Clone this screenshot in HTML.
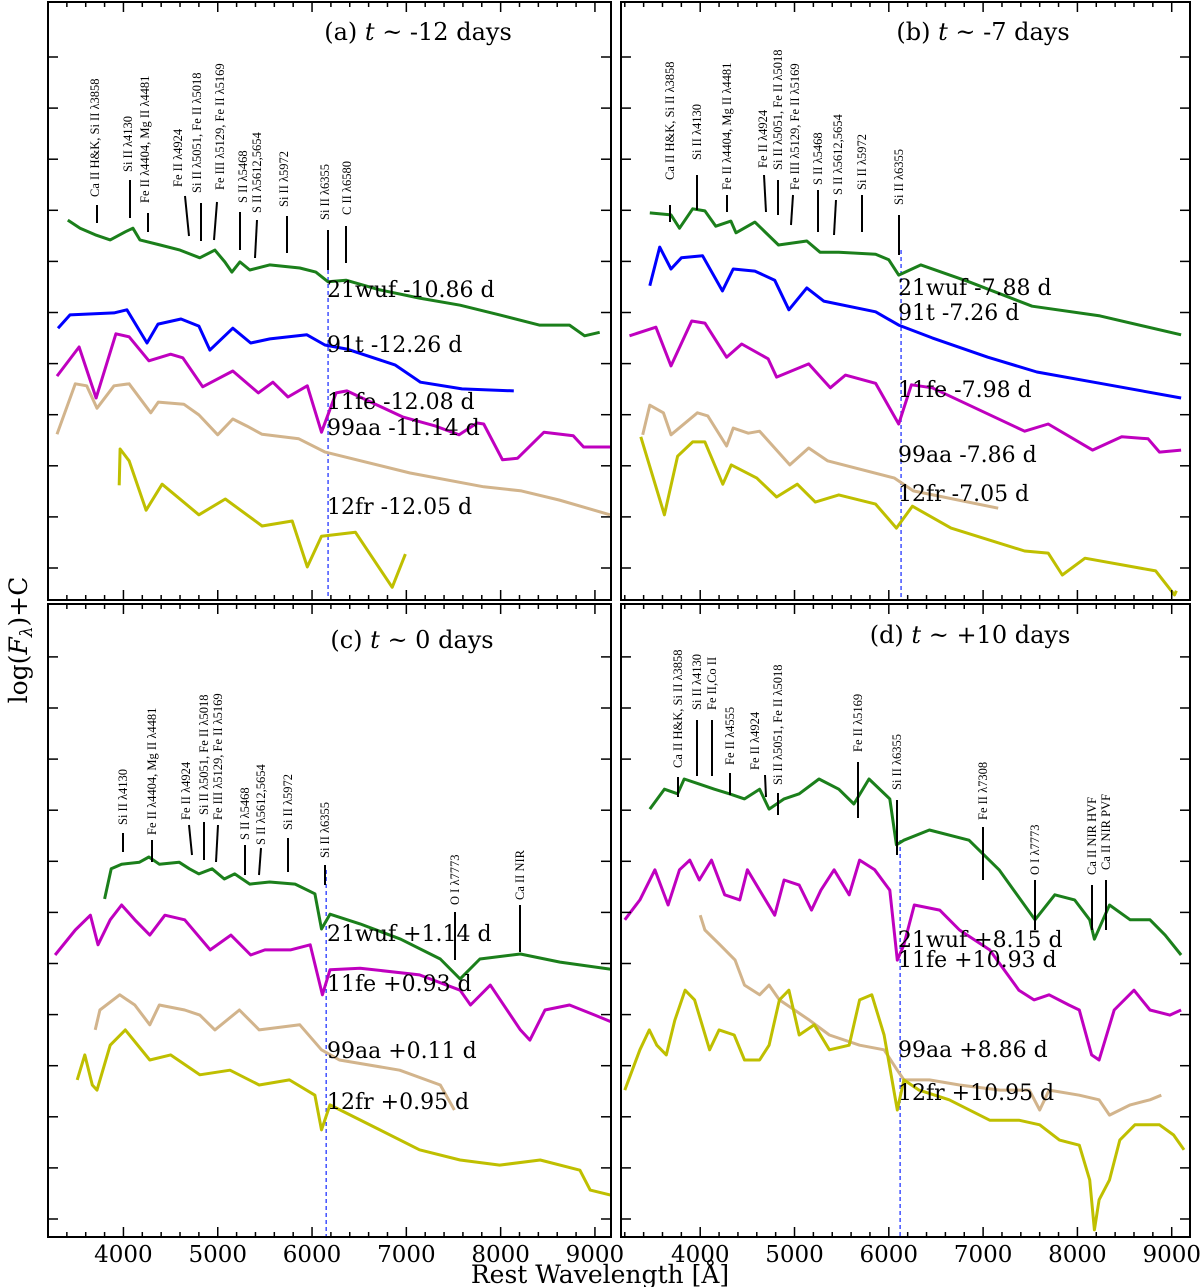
<!DOCTYPE html>
<html><head><meta charset="utf-8">
<style>
html,body{margin:0;padding:0;background:#fff;}
svg{display:block;}
.lbl{font-family:"DejaVu Serif","Liberation Serif",serif;font-size:22px;fill:#000;}
.ttl{font-family:"DejaVu Serif","Liberation Serif",serif;font-size:24px;fill:#000;}
.ion{font-family:"Liberation Serif","DejaVu Serif",serif;font-size:12.5px;fill:#000;}
.tick{font-family:"DejaVu Serif","Liberation Serif",serif;font-size:23px;fill:#000;}
</style></head>
<body>
<svg id="chart" width="1200" height="1287" viewBox="0 0 1200 1287">
<text x="600" y="1283" text-anchor="middle" class="tick" style="font-size:25px">Rest Wavelength [Å]</text>
<text transform="translate(27,640) rotate(-90)" text-anchor="middle" class="tick" style="font-size:25px;font-family:'DejaVu Serif',serif">log(<tspan font-style="italic">F</tspan><tspan font-style="italic" font-size="17" dy="5">λ</tspan><tspan dy="-5">)+C</tspan></text>
</svg>
<script>
// ---- data: [rest wavelength (Å), log flux + offset] ----
const wufA=[[3410,7.45],[3540,7.29],[3700,7.16],[3860,7.06],[4020,7.22],[4100,7.29],[4175,7.06],[4390,6.96],[4600,6.86],[4810,6.71],[4970,6.86],[5075,6.63],[5150,6.43],[5235,6.63],[5340,6.47],[5550,6.57],[5870,6.51],[6040,6.43],[6170,6.24],[6360,6.27],[6720,6.08],[7140,5.92],[7570,5.78],[7990,5.59],[8410,5.39],[8730,5.39],[8890,5.18],[9050,5.25]];
const t91A=[[3306,5.33],[3433,5.59],[3900,5.63],[4037,5.69],[4250,5.04],[4366,5.41],[4610,5.51],[4800,5.37],[4917,4.9],[5160,5.33],[5350,5.04],[5553,5.12],[5945,5.2],[6136,5.0],[6370,4.92],[6880,4.61],[7150,4.27],[7590,4.14],[8140,4.1]];
const fe11A=[[3295,4.39],[3530,4.96],[3710,3.96],[3920,5.22],[4060,5.16],[4270,4.69],[4500,4.82],[4630,4.75],[4840,4.18],[5160,4.49],[5430,4.06],[5585,4.27],[5745,3.98],[5950,4.2],[6100,3.29],[6255,4.06],[6370,4.1],[6960,3.59],[7310,3.41],[7560,3.24],[7750,3.47],[7820,3.45],[8020,2.75],[8180,2.78],[8460,3.29],[8770,3.22],[8880,3.0],[9160,3.0]];
const aa99A=[[3295,3.25],[3490,4.24],[3610,4.2],[3720,3.76],[3900,4.2],[4060,4.24],[4290,3.67],[4370,3.88],[4640,3.84],[4800,3.63],[5000,3.24],[5160,3.55],[5310,3.41],[5470,3.25],[5860,3.16],[6140,2.9],[7040,2.49],[7820,2.22],[8220,2.14],[8620,1.96],[9160,1.67]];
const fr12A=[[3955,2.25],[3965,2.96],[4060,2.73],[4240,1.76],[4410,2.27],[4800,1.67],[5080,1.98],[5470,1.45],[5790,1.55],[5950,0.65],[6100,1.25],[6460,1.33],[6850,0.25],[6990,0.9]];

const wufB=[[3465,7.59],[3690,7.55],[3780,7.29],[3920,7.67],[4050,7.63],[4165,7.33],[4325,7.43],[4380,7.2],[4580,7.41],[4830,6.96],[5130,7.04],[5270,6.82],[5470,6.82],[5860,6.78],[6000,6.67],[6105,6.37],[6340,6.57],[6850,6.24],[7520,5.76],[8240,5.57],[9100,5.2]];
const t91B=[[3465,6.16],[3570,6.92],[3690,6.49],[3800,6.71],[4025,6.75],[4235,6.06],[4350,6.49],[4580,6.45],[4790,6.27],[4940,5.69],[5130,6.12],[5310,5.86],[5860,5.65],[6105,5.39],[6460,5.14],[7050,4.76],[7570,4.47],[8240,4.25],[9100,3.96]];
const fe11B=[[3250,5.18],[3530,5.35],[3690,4.59],[3910,5.47],[4050,5.43],[4280,4.76],[4440,5.02],[4720,4.73],[4810,4.37],[5150,4.63],[5380,4.16],[5540,4.41],[5860,4.25],[6105,3.45],[6240,4.22],[6460,4.16],[7440,3.31],[7690,3.45],[8160,2.94],[8470,3.2],[8750,3.16],[8870,2.9],[9100,2.94]];
const aa99B=[[3390,3.24],[3465,3.82],[3610,3.67],[3690,3.24],[3970,3.67],[4080,3.61],[4280,3.02],[4350,3.37],[4510,3.27],[4630,3.31],[4950,2.65],[5150,2.98],[5350,2.73],[6060,2.39],[6260,2.14],[7160,1.8]];
const fr12B=[[3370,3.2],[3620,1.67],[3760,2.82],[3920,3.1],[4050,3.1],[4240,2.27],[4330,2.65],[4600,2.39],[4810,2.02],[5030,2.27],[5220,1.92],[5470,2.06],[5860,1.88],[6080,1.41],[6250,1.84],[6660,1.41],[7440,0.96],[7690,0.92],[7840,0.49],[8080,0.82],[8830,0.57],[9030,0.1],[9050,0.18]];

const wufC=[[3800,6.63],[3870,7.22],[3980,7.31],[4170,7.35],[4270,7.45],[4380,7.31],[4590,7.35],[4700,7.22],[4800,7.12],[4940,7.22],[5070,7.02],[5180,7.12],[5340,6.92],[5550,6.96],[5820,6.92],[6030,6.73],[6100,6.04],[6190,6.33],[6510,6.14],[6940,5.84],[7360,5.45],[7570,5.06],[7780,5.45],[8210,5.55],[8630,5.39],[9170,5.25]];
const fe11C=[[3275,5.53],[3490,6.02],[3650,6.31],[3730,5.73],[3860,6.22],[3980,6.51],[4120,6.22],[4280,5.92],[4440,6.31],[4650,6.22],[4920,5.63],[5140,5.92],[5350,5.53],[5500,5.63],[5770,5.63],[5980,5.73],[6110,4.75],[6190,5.24],[6510,5.27],[7140,5.14],[7570,4.84],[7680,4.55],[7890,4.94],[8210,4.06],[8310,3.86],[8470,4.45],[8730,4.55],[9000,4.35],[9170,4.22]];
const aa99C=[[3700,4.06],[3750,4.45],[3960,4.75],[4120,4.55],[4280,4.16],[4380,4.55],[4650,4.45],[4810,4.35],[4970,4.06],[5230,4.45],[5440,4.06],[5870,4.16],[6100,3.67],[6290,3.47],[6930,3.27],[7360,2.98],[7510,2.49]];
const fr12C=[[3510,3.08],[3590,3.57],[3670,2.98],[3720,2.88],[3860,3.76],[4020,4.06],[4280,3.47],[4500,3.57],[4810,3.18],[5130,3.27],[5440,2.98],[5760,3.08],[6030,2.78],[6100,2.1],[6190,2.59],[6720,2.1],[7140,1.71],[7570,1.51],[7990,1.41],[8420,1.51],[8840,1.31],[8950,0.92],[9170,0.82]];

const wufD=[[3465,8.39],[3620,8.78],[3760,8.69],[3830,8.98],[3990,8.88],[4150,8.78],[4310,8.69],[4470,8.59],[4630,8.78],[4730,8.39],[4890,8.59],[5050,8.69],[5260,8.98],[5470,8.78],[5630,8.49],[5790,8.98],[6010,8.59],[6080,7.69],[6160,7.78],[6430,7.98],[6850,7.78],[7170,7.2],[7550,6.22],[7760,6.71],[7970,6.61],[8130,6.22],[8180,5.84],[8340,6.51],[8560,6.22],[8770,6.22],[8930,5.92],[9100,5.53]];
const fe11D=[[3200,6.22],[3360,6.61],[3520,7.2],[3660,6.51],[3780,7.2],[3890,7.39],[3990,7.0],[4120,7.39],[4260,6.71],[4420,6.61],[4500,7.2],[4630,6.8],[4790,6.31],[4890,7.0],[5050,6.9],[5180,6.41],[5280,6.8],[5420,7.2],[5580,6.71],[5690,7.39],[5850,7.2],[6010,6.8],[6090,5.43],[6160,5.73],[6270,6.51],[6540,6.41],[6750,6.02],[7070,5.63],[7380,4.84],[7540,4.65],[7700,4.75],[7910,4.55],[8020,4.45],[8150,3.57],[8230,3.47],[8390,4.45],[8600,4.84],[8770,4.45],[8980,4.35],[9100,4.45]];
const aa99D=[[4000,6.31],[4050,6.02],[4210,5.73],[4370,5.43],[4470,4.94],[4630,4.75],[4730,4.94],[4840,4.65],[5000,4.45],[5160,4.25],[5370,3.96],[5690,3.76],[5950,3.67],[6090,3.27],[6160,3.08],[6430,3.08],[6750,2.98],[7180,2.88],[7490,2.88],[7600,2.49],[7700,2.88],[8020,2.78],[8230,2.69],[8340,2.39],[8560,2.59],[8770,2.69],[8890,2.78]];
const fr12D=[[3200,2.88],[3360,3.67],[3460,4.06],[3540,3.76],[3640,3.57],[3730,4.25],[3840,4.84],[3940,4.65],[4100,3.67],[4200,4.06],[4360,3.96],[4470,3.47],[4630,3.47],[4730,3.76],[4840,4.65],[4940,4.84],[5050,3.96],[5210,4.16],[5370,3.67],[5580,3.76],[5690,4.65],[5820,4.75],[5950,3.96],[6090,2.49],[6160,3.08],[6320,2.88],[6640,2.69],[7070,2.29],[7380,2.29],[7600,2.2],[7810,1.9],[8020,1.8],[8130,1.12],[8180,0.14],[8230,0.73],[8340,1.12],[8450,1.9],[8610,2.2],[8870,2.2],[9020,2.0],[9130,1.71]];

const xTickLabels=[4000,5000,6000,7000,8000,9000];
const seriesNames=["21wuf","91t","11fe","99aa","12fr"];
const seriesColors={"21wuf":"#1b7f1b","91t":"#0000ff","11fe":"#bf00bf","99aa":"#d2b48c","12fr":"#bfbf00"};

const panels=[
 {id:"a",x0:48,x1:611,y0:2,y1:600,lam0:3200,title:"-12 days",tx:418,ty:40,
  series:{"21wuf":wufA,"91t":t91A,"11fe":fe11A,"99aa":aa99A,"12fr":fr12A},
  labels:[["21wuf -10.86 d",297],["91t -12.26 d",352],["11fe -12.08 d",409],["99aa -11.14 d",435],["12fr -12.05 d",514]],lx:327,dash:[270,600],dashLam:6170,
  ions:[["Ca II H&K, Si II λ3858",95,197,97,205,97,223],["Si II λ4130",128,172,130,180,130,218],["Fe II λ4404, Mg II λ4481",145,203,148,213,148,232],["Fe II λ4924",178,187,185,196,189,236],["Si II λ5051, Fe II λ5018",197,193,201,203,201,241],["Fe III λ5129, Fe II λ5169",220,190,217,202,214,240],["S II λ5468",243,203,240,212,240,250],["S II λ5612,5654",257,213,257,220,255,258],["Si II λ5972",284,207,287,216,287,253],["Si II λ6355",325,220,328,230,328,270],["C II λ6580",347,215,346,226,346,263]]},
 {id:"b",x0:621,x1:1190,y0:2,y1:600,lam0:3160,title:"-7 days",tx:983,ty:40,
  series:{"21wuf":wufB,"91t":t91B,"11fe":fe11B,"99aa":aa99B,"12fr":fr12B},
  labels:[["21wuf -7.88 d",295],["91t -7.26 d",320],["11fe -7.98 d",397],["99aa -7.86 d",462],["12fr -7.05 d",501]],lx:898,dash:[250,600],dashLam:6130,
  ions:[["Ca II H&K, Si II λ3858",670,180,670,205,670,222],["Si II λ4130",697,160,697,175,697,210],["Fe II λ4404, Mg II λ4481",727,190,727,195,727,212],["Fe II λ4924",763,168,764,175,766,212],["Si II λ5051, Fe II λ5018",778,170,778,180,778,215],["Fe III λ5129, Fe II λ5169",795,190,793,195,791,225],["S II λ5468",818,185,818,190,818,232],["S II λ5612,5654",838,195,836,200,834,235],["Si II λ5972",862,190,862,195,862,232],["Si II λ6355",899,205,899,215,899,255]]},
 {id:"c",x0:48,x1:611,y0:604,y1:1237,lam0:3200,title:"0 days",tx:412,ty:648,
  series:{"21wuf":wufC,"11fe":fe11C,"99aa":aa99C,"12fr":fr12C},
  labels:[["21wuf +1.14 d",941],["11fe +0.93 d",991],["99aa +0.11 d",1058],["12fr +0.95 d",1109]],lx:327,dash:[870,1237],dashLam:6150,
  ions:[["Si II λ4130",123,825,123,833,123,852],["Fe II λ4404, Mg II λ4481",152,835,152,840,152,862],["Fe II λ4924",186,820,189,825,192,855],["Si II λ5051, Fe II λ5018",204,815,204,822,204,860],["Fe III λ5129, Fe II λ5169",218,820,218,825,216,862],["S II λ5468",245,840,245,845,245,875],["S II λ5612,5654",261,845,261,848,259,875],["Si II λ5972",288,830,288,838,288,872],["Si II λ6355",325,858,325,865,325,885],["O I λ7773",455,905,455,912,455,960],["Ca II NIR",520,900,520,905,520,952]]},
 {id:"d",x0:621,x1:1190,y0:604,y1:1237,lam0:3160,title:"+10 days",tx:970,ty:643,
  series:{"21wuf":wufD,"11fe":fe11D,"99aa":aa99D,"12fr":fr12D},
  labels:[["21wuf +8.15 d",947],["11fe +10.93 d",967],["99aa +8.86 d",1057],["12fr +10.95 d",1100]],lx:898,dash:[840,1237],dashLam:6120,
  ions:[["Ca II H&K, Si II λ3858",678,768,678,777,678,797],["Si II λ4130",697,710,697,720,697,776],["Fe II,Co II",712,710,712,720,712,776],["Fe II λ4555",730,765,730,773,730,795],["Fe II λ4924",755,770,765,775,766,797],["Si II λ5051, Fe II λ5018",778,785,778,793,778,815],["Fe II λ5169",858,752,858,762,858,818],["Si II λ6355",897,790,897,800,897,855],["Fe II λ7308",983,820,983,827,983,880],["O I λ7773",1035,875,1035,880,1035,930],["Ca II NIR HVF",1092,875,1092,885,1092,930],["Ca II NIR PVF",1106,870,1106,880,1106,930]]}
];
const PXPERA=0.0943, PXPERV=51;
const NS="http://www.w3.org/2000/svg";
const svg=document.getElementById("chart");
function mk(tag,attrs,parent){const e=document.createElementNS(NS,tag);for(const k in attrs)e.setAttribute(k,attrs[k]);(parent||svg).appendChild(e);return e;}

panels.forEach(p=>{
  const g=mk("g",{});
  
  
  const xs=l=>p.x0+(l-p.lam0)*PXPERA;
  const ys=v=>p.y1-v*PXPERV;
  const clipId="clip"+p.id;
  const cp=mk("clipPath",{id:clipId},g);
  mk("rect",{x:p.x0,y:p.y0,width:p.x1-p.x0,height:p.y1-p.y0},cp);
  const dl=mk("line",{x1:xs(p.dashLam),x2:xs(p.dashLam),y1:p.dash[0],y2:p.dash[1],stroke:"#3344ff","stroke-width":1.4,"stroke-dasharray":"4,3"},g);
  
  
  for(const name of seriesNames){
    const d=p.series[name]; if(!d) continue;
    const path=mk("path",{d:d.map((pt,i)=>(i?"L":"M")+xs(pt[0]).toFixed(1)+","+ys(pt[1]).toFixed(1)).join(""),fill:"none",stroke:seriesColors[name],"stroke-width":3,"stroke-linejoin":"round","clip-path":"url(#"+clipId+")"},g);
    
    
  }
  p.labels.forEach(l=>{
    const t=mk("text",{x:p.lx,y:l[1],class:"lbl"},g);t.textContent=l[0];
    
    
  });
  p.ions.forEach(io=>{
    const t=mk("text",{transform:"translate("+(io[1]+4)+","+io[2]+") rotate(-90)",class:"ion"},g);t.textContent=io[0];
    
    
    const ln=mk("line",{x1:io[3],y1:io[4],x2:io[5],y2:io[6],stroke:"#000","stroke-width":2},g);
    
    
  });
  const tt=mk("text",{x:p.tx,y:p.ty,"text-anchor":"middle",class:"ttl"},g);
  tt.innerHTML="("+p.id+") <tspan font-style='italic'>t</tspan> ~ "+p.title;
  
  
  for(let l=3200;l<=9200;l+=200){
    const x=xs(l); if(x<p.x0+1||x>p.x1-1) continue;
    const len=(l%1000===0)?10:5;
    mk("line",{x1:x,x2:x,y1:p.y1,y2:p.y1-len,stroke:"#000","stroke-width":1.5},g);
    mk("line",{x1:x,x2:x,y1:p.y0,y2:p.y0+len,stroke:"#000","stroke-width":1.5},g);
  }
  for(let y=p.y1-(p.id==="a"||p.id==="b"?32:18);y>p.y0+5;y-=51.1){
    mk("line",{x1:p.x0,x2:p.x0+10,y1:y,y2:y,stroke:"#000","stroke-width":1.5},g);
    mk("line",{x1:p.x1,x2:p.x1-10,y1:y,y2:y,stroke:"#000","stroke-width":1.5},g);
  }
  if(p.id==="c"||p.id==="d"){
    xTickLabels.forEach(v=>{
      const t=mk("text",{x:xs(v),y:1262,"text-anchor":"middle",class:"tick"},g);t.textContent=v;
      
      
    });
  }
  const fr=mk("rect",{x:p.x0,y:p.y0,width:p.x1-p.x0,height:p.y1-p.y0,fill:"none",stroke:"#000","stroke-width":2},g);
  
  
});
</script>
</body></html>
